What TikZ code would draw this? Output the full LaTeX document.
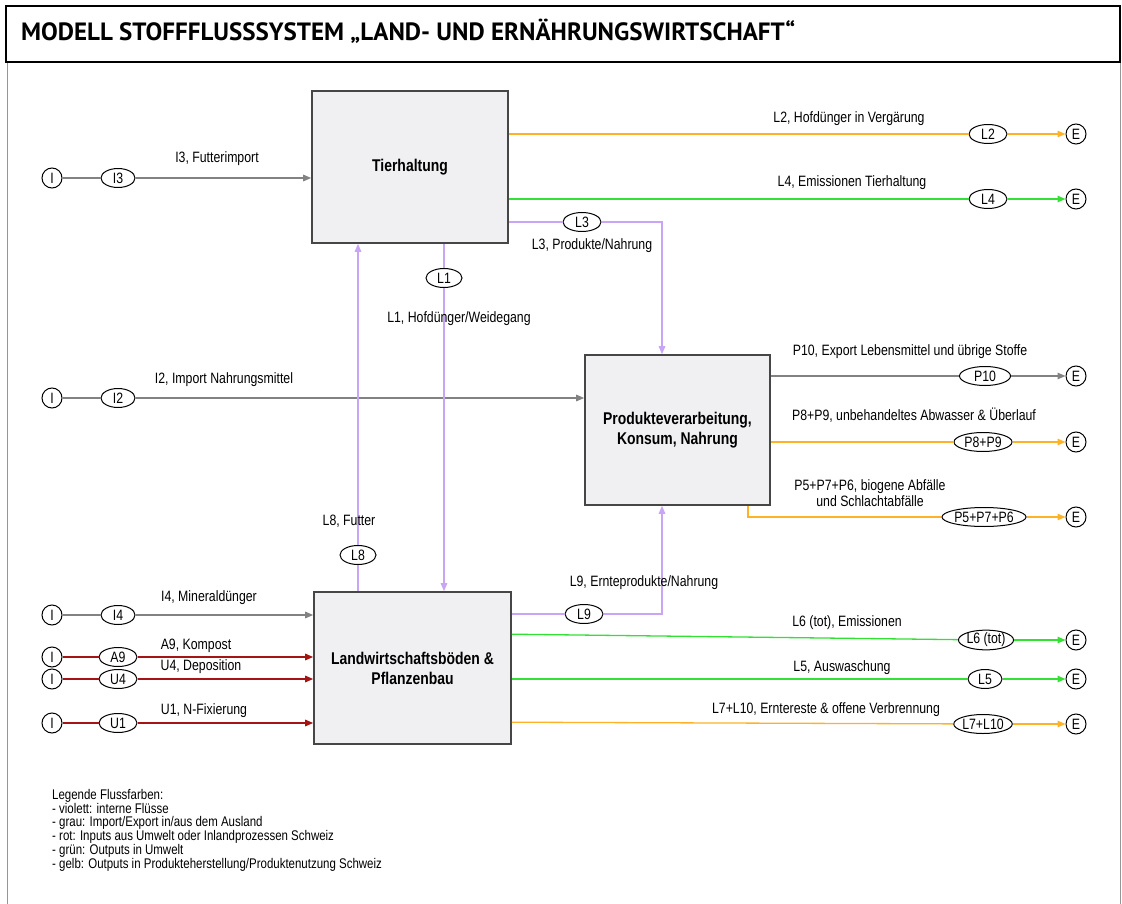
\documentclass[tikz,border=0pt]{standalone}
\usepackage{fontspec}
\setmainfont{Liberation Sans}[FakeStretch=0.82]
\newfontfamily\titlefont{PT Sans}
\usetikzlibrary{arrows.meta,shapes.geometric}
\definecolor{flowgray}{RGB}{130,130,130}
\definecolor{floworange}{RGB}{255,178,40}
\definecolor{flowgreen}{RGB}{50,225,50}
\definecolor{flowviolet}{RGB}{200,165,245}
\definecolor{flowred}{RGB}{165,20,20}
\definecolor{boxfill}{RGB}{240,240,243}
\definecolor{boxline}{RGB}{70,70,70}
\definecolor{framegray}{RGB}{150,150,150}
\newcommand\labfont{\fontsize{15}{17}\selectfont}
\tikzset{
  flow/.style={line width=1.3pt},
  tip/.style={-{Triangle[length=8pt,width=6.5pt]}},
  fgray/.style={flow,draw=flowgray,color=flowgray},
  forange/.style={flow,draw=floworange,color=floworange},
  fgreen/.style={flow,draw=flowgreen,color=flowgreen},
  fviolet/.style={flow,draw=flowviolet,color=flowviolet},
  fred/.style={flow,draw=flowred,color=flowred},
  proc/.style={draw=boxline,line width=1.6pt,fill=boxfill,align=center,
    font=\fontsize{17}{20}\selectfont\bfseries},
  ell/.style={draw=black,ellipse,line width=1pt,inner sep=0pt,minimum height=19pt,
    fill=white,font=\labfont},
  term/.style={draw=black,circle,line width=1pt,inner sep=0pt,minimum size=20pt,
    fill=white,font=\labfont},
  lbl/.style={font=\labfont,inner sep=0pt,align=center},
}
\begin{document}
\begin{tikzpicture}[x=1pt,y=-1pt]
\useasboundingbox (0,0) rectangle (1122,904);
% frame
\node[draw=black,line width=2pt,minimum width=1114pt,minimum height=56pt,anchor=north west,inner sep=0pt] (title) at (5,5) {};
\node[anchor=west,inner sep=0pt] (titletext) at (21,31)
  {\resizebox{774pt}{!}{\titlefont\bfseries MODELL STOFFFLUSSSYSTEM „LAND- UND ERNÄHRUNGSWIRTSCHAFT“}};
\draw[framegray,line width=1pt] (title.south west) ++(2,0) -- ++(0,850);
\draw[framegray,line width=1pt] (title.south east) ++(-1,0) -- ++(0,850);

% process boxes
\node[proc,minimum width=196pt,minimum height=152pt] (tier) at (410,167) {Tierhaltung};
\node[proc,minimum width=185pt,minimum height=150pt] (prod) at (677.5,430) {Produkteverarbeitung,\\Konsum, Nahrung};
\node[proc,minimum width=197pt,minimum height=152pt] (land) at (412.5,668) {Landwirtschaftsböden \&\\Pflanzenbau};

% import rows
\node[term] (iI3) at (52,178) {I};
\node[ell,minimum width=34pt] (I3) at (118,178) {I3};
\node[term] (iI2) at (52,398) {I};
\node[ell,minimum width=34pt] (I2) at (118,398) {I2};
\node[term] (iI4) at (52,615) {I};
\node[ell,minimum width=34pt] (I4) at (118,615) {I4};
\node[term] (iA9) at (52,657) {I};
\node[ell,minimum width=38pt] (A9) at (118,657) {A9};
\node[term] (iU4) at (52,679) {I};
\node[ell,minimum width=38pt] (U4) at (118,679) {U4};
\node[term] (iU1) at (52,723) {I};
\node[ell,minimum width=38pt] (U1) at (118,723) {U1};

\draw[fgray] (iI3) -- (I3);
\draw[fgray,tip] (I3) -- (I3 -| tier.west);
\draw[fgray] (iI2) -- (I2);
\draw[fgray,tip] (I2) -- (I2 -| prod.west);
\draw[fgray] (iI4) -- (I4);
\draw[fgray,tip] (I4) -- (I4 -| land.west);
\draw[fred] (iA9) -- (A9);
\draw[fred,tip] (A9) -- (A9 -| land.west);
\draw[fred] (iU4) -- (U4);
\draw[fred,tip] (U4) -- (U4 -| land.west);
\draw[fred] (iU1) -- (U1);
\draw[fred,tip] (U1) -- (U1 -| land.west);

\node[lbl] (tI3) at (217,159) {I3, Futterimport};
\node[lbl] (tI2) at (224,380) {I2, Import Nahrungsmittel};
\node[lbl] (tI4) at (209,598) {I4, Mineraldünger};
\node[lbl] (tA9) at (196,646) {A9, Kompost};
\node[lbl] (tU4) at (201,667) {U4, Deposition};
\node[lbl] (tU1) at (204,711) {U1, N-Fixierung};

% internal flows
\node[ell,minimum width=38pt] (L3) at (582,222) {L3};
\coordinate (c3) at (662,222);
\draw[fviolet] (L3 -| tier.east) -- (L3);
\draw[fviolet,tip] (L3) -- (c3) -- (c3 |- prod.north);
\node[lbl] (tL3) at (592,246) {L3, Produkte/Nahrung};

\node[ell,minimum width=36pt] (L1) at (444,278) {L1};
\draw[fviolet] (L1 |- tier.south) -- (L1);
\draw[fviolet,tip] (L1) -- (L1 |- land.north);
\node[lbl] (tL1) at (459,319) {L1, Hofdünger/Weidegang};

\node[ell,minimum width=36pt] (L8) at (358,555) {L8};
\draw[fviolet] (L8 |- land.north) -- (L8);
\draw[fviolet,tip] (L8) -- (L8 |- tier.south);
\node[lbl] (tL8) at (349,521) {L8, Futter};

\node[ell,minimum width=38pt] (L9) at (584,614) {L9};
\coordinate (c9) at (662,614);
\draw[fviolet] (L9 -| land.east) -- (L9);
\draw[fviolet,tip] (L9) -- (c9) -- (c9 |- prod.south);
\node[lbl] (tL9) at (644,583) {L9, Ernteprodukte/Nahrung};

% export rows
\node[term] (E2) at (1076,134) {E};
\node[ell,minimum width=38pt] (L2) at (988,134) {L2};
\draw[forange] (L2 -| tier.east) -- (L2);
\draw[forange,tip] (L2) -- (E2);
\node[lbl] (tL2) at (849,119) {L2, Hofdünger in Vergärung};

\node[term] (E4) at (1076,199) {E};
\node[ell,minimum width=38pt] (L4) at (988,199) {L4};
\draw[fgreen] (L4 -| tier.east) -- (L4);
\draw[fgreen,tip] (L4) -- (E4);
\node[lbl] (tL4) at (852,183) {L4, Emissionen Tierhaltung};

\node[term] (E10) at (1076,376) {E};
\node[ell,minimum width=51pt] (P10) at (985,376) {P10};
\draw[fgray] (P10 -| prod.east) -- (P10);
\draw[fgray,tip] (P10) -- (E10);
\node[lbl] (tP10) at (910,352) {P10, Export Lebensmittel und übrige Stoffe};

\node[term] (E89) at (1076,442) {E};
\node[ell,minimum width=58pt] (P89) at (983,442) {P8+P9};
\draw[forange] (P89 -| prod.east) -- (P89);
\draw[forange,tip] (P89) -- (E89);
\node[lbl] (tP89) at (914,415) {P8+P9, unbehandeltes Abwasser \& Überlauf};

\node[term] (E576) at (1076,517) {E};
\node[ell,minimum width=80pt] (P576) at (984,517) {P5+P7+P6};
\coordinate (c5) at (748,517);
\draw[forange] (c5 |- prod.south) -- (c5) -- (P576);
\draw[forange,tip] (P576) -- (E576);
\node[lbl,font=\fontsize{15}{16}\selectfont] (tP576) at (870,493) {P5+P7+P6, biogene Abfälle\\und Schlachtabfälle};

\node[term] (E6) at (1076,640) {E};
\node[ell,minimum width=54pt] (L6) at (986,640) {L6 (tot)};
\draw[fgreen] ([yshift=-43pt]land.north east) -- (L6);
\draw[fgreen,tip] (L6) -- (E6);
\node[lbl] (tL6) at (847,623) {L6 (tot), Emissionen};

\node[term] (E5) at (1076,679) {E};
\node[ell,minimum width=34pt] (L5) at (985,679) {L5};
\draw[fgreen] (L5 -| land.east) -- (L5);
\draw[fgreen,tip] (L5) -- (E5);
\node[lbl] (tL5) at (842,668) {L5, Auswaschung};

\node[term] (E710) at (1076,724) {E};
\node[ell,minimum width=57pt] (L710) at (983,724) {L7+L10};
\draw[forange] ([yshift=-131pt]land.north east) -- (L710);
\draw[forange,tip] (L710) -- (E710);
\node[lbl] (tL710) at (826,710) {L7+L10, Erntereste \& offene Verbrennung};

% legend
\node[anchor=north west,align=left,inner sep=0pt,font=\fontsize{14}{13}\selectfont] (legend) at (52,789)
  {Legende Flussfarben:\\
   - violett: interne Flüsse\\
   - grau: Import/Export in/aus dem Ausland\\
   - rot: Inputs aus Umwelt oder Inlandprozessen Schweiz\\
   - grün: Outputs in Umwelt\\
   - gelb: Outputs in Produkteherstellung/Produktenutzung Schweiz};
\end{tikzpicture}
\end{document}
